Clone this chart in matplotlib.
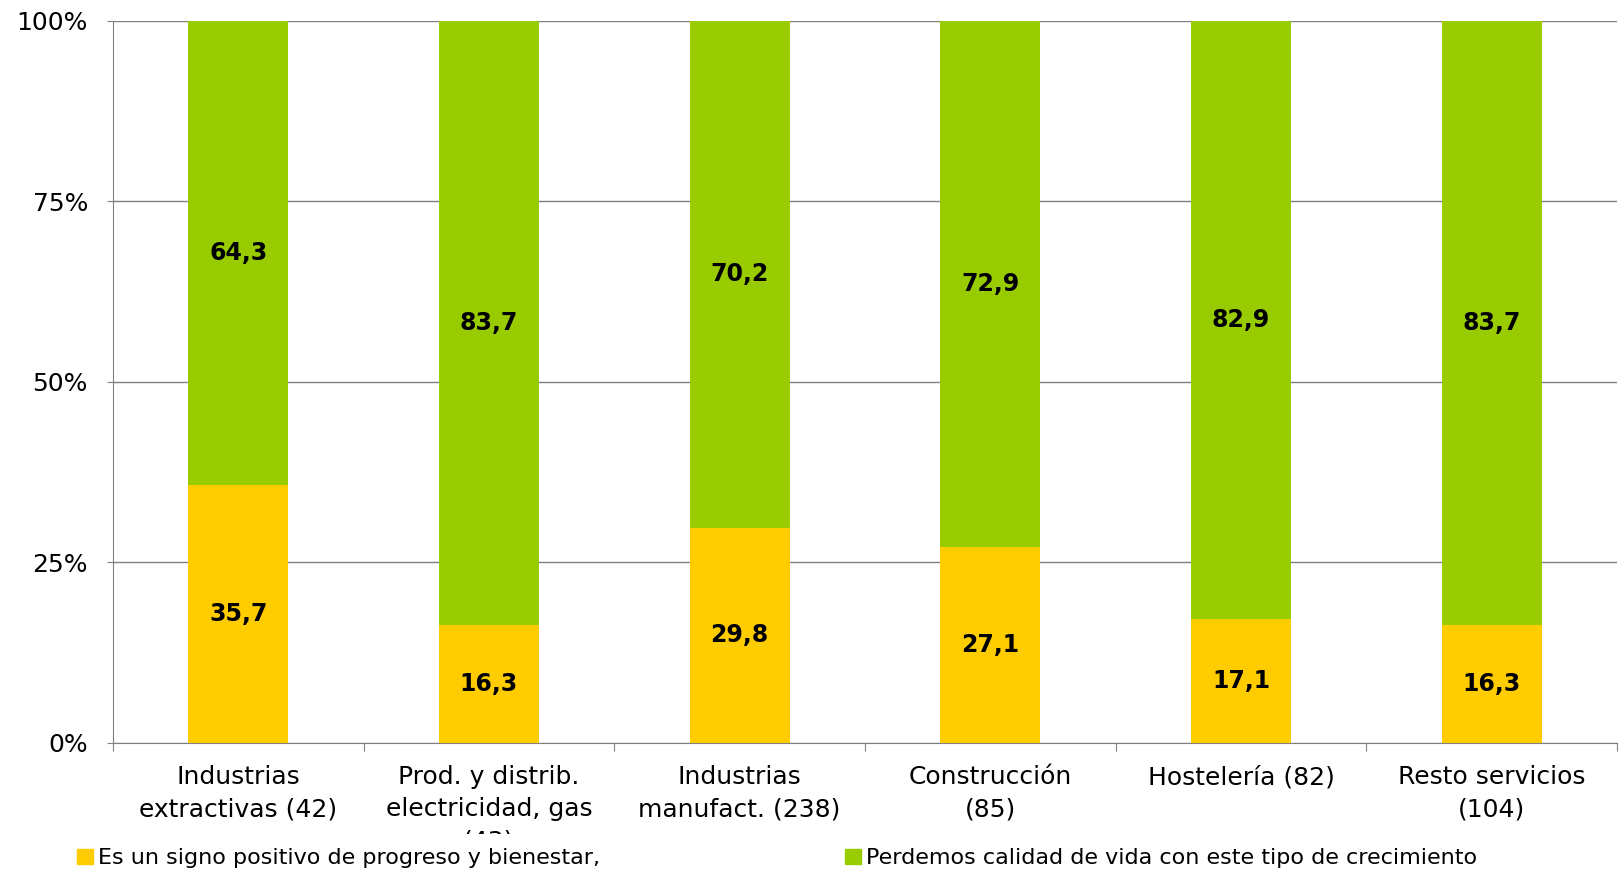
import numpy as np
import matplotlib.pyplot as plt
from matplotlib.patches import Patch, Rectangle

plt.rcParams['font.family'] = ['DejaVu Sans']

categories = ['Industrias\nextractivas (42)', 'Prod. y distrib.\nelectricidad, gas\n(43)',
              'Industrias\nmanufact. (238)', 'Construcción\n(85)', 'Hostelería (82)',
              'Resto servicios\n(104)']
positivo = [35.7, 16.3, 29.8, 27.1, 17.1, 16.3]
perdemos = [64.3, 83.7, 70.2, 72.9, 82.9, 83.7]
legend_labels = ['Es un signo positivo de progreso y bienestar,',
                 'Perdemos calidad de vida con este tipo de crecimiento']

yellow = '#FFCC00'
green = '#99CC00'

fig = plt.figure(figsize=(16.23, 8.69), dpi=100)
ax = fig.add_axes([113 / 1623, 1 - 743 / 869, (1617 - 113) / 1623, (743 - 20.7) / 869])

x = np.arange(len(categories))
ax.bar(x, positivo, width=0.4, color=yellow, zorder=3)
ax.bar(x, perdemos, width=0.4, bottom=positivo, color=green, zorder=3)

for i in range(len(categories)):
    ax.text(x[i], positivo[i] / 2, f'{positivo[i]:.1f}'.replace('.', ','),
            ha='center', va='center', fontsize=17, fontweight='bold', zorder=4)
    ax.text(x[i], positivo[i] + perdemos[i] / 2, f'{perdemos[i]:.1f}'.replace('.', ','),
            ha='center', va='center', fontsize=17, fontweight='bold', zorder=4)

ax.set_xlim(-0.5, len(categories) - 0.5)
ax.set_ylim(0, 100)
ax.set_yticks([0, 25, 50, 75, 100])
ax.set_yticklabels(['0%', '25%', '50%', '75%', '100%'], fontsize=18)
ax.yaxis.grid(True, color='#808080', linewidth=1, zorder=0)

ax.set_xticks(np.arange(-0.5, len(categories), 1.0))
ax.set_xticklabels([])
ax.set_xticks(x, minor=True)
ax.set_xticklabels(categories, minor=True, fontsize=18, linespacing=1.42)
ax.tick_params(axis='x', which='minor', length=0, pad=16)
ax.tick_params(axis='x', which='major', length=6, color='#808080', direction='out')
ax.tick_params(axis='y', length=4, color='#808080', direction='out', pad=14)

for s in ['top', 'right']:
    ax.spines[s].set_visible(False)
for s in ['left', 'bottom']:
    ax.spines[s].set_color('#808080')

# the third label line is cut off by the legend area in the original
fig.patches.append(Rectangle((0, 0), 1, (869 - 834) / 869, transform=fig.transFigure,
                             facecolor='white', edgecolor='none', zorder=1))

fig.legend(handles=[Patch(color=yellow)], labels=[legend_labels[0]], loc='lower left',
           bbox_to_anchor=(57 / 1623, -0.022), frameon=False, fontsize=16,
           handlelength=0.7, handleheight=0.7, handletextpad=0.25)
fig.legend(handles=[Patch(color=green)], labels=[legend_labels[1]], loc='lower left',
           bbox_to_anchor=(825 / 1623, -0.022), frameon=False, fontsize=16,
           handlelength=0.7, handleheight=0.7, handletextpad=0.25)

fig.savefig('out.png', dpi=100)
